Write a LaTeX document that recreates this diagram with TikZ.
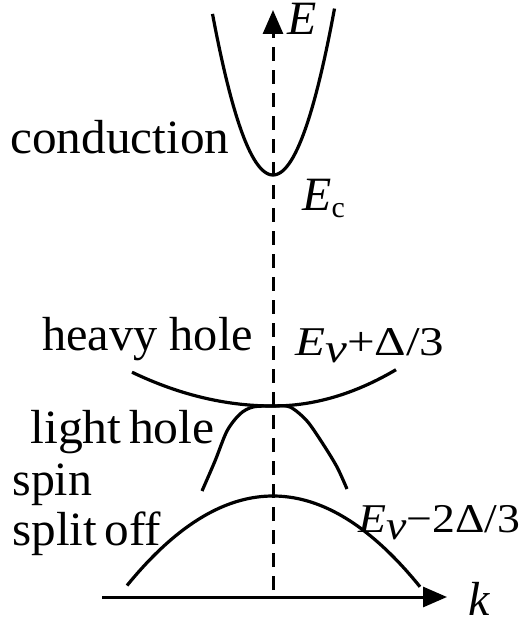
\documentclass[tikz,border=0pt]{standalone}
\usepackage{fontspec}
\setmainfont{Liberation Serif}
\usepackage{graphicx}
\usetikzlibrary{arrows.meta}

\newcommand\txt{\fontsize{24}{28}\selectfont}
\newcommand\wide[2]{\scalebox{#1}[1]{#2}}

\begin{document}
\begin{tikzpicture}[x=0.5bp, y=-0.5bp,
  lbl/.style={inner sep=0pt, anchor=base west, font=\txt},
  level/.style={lbl, font=\fontsize{20.5}{24}\selectfont},
  band/.style={line width=1.6bp},
  axis/.style={line width=1.5bp, -{Triangle[length=12bp,width=10bp]}}
]
  \useasboundingbox (0,0) rectangle (522,623);
  \coordinate (o) at (273,590);
  \coordinate (etop) at (273,10);
  \coordinate (kl) at (102,597);
  \coordinate (kr) at (447,597);

  \draw[axis, dash pattern=on 7bp off 4.5bp] (o) -- (etop);
  \draw[axis] (kl) -- (kr);

  \draw[band] plot[domain=-60.5:61.5, samples=60] ({273+\x},{175-0.044*\x*\x});
  \draw[band] plot[domain=-141:0, samples=40] ({273+\x},{406-0.17*(\x/10)*(\x/10)})
    -- plot[domain=0:123, samples=40] ({273+\x},{406-0.24*(\x/10)*(\x/10)});
  \draw[band] plot[smooth] coordinates {(202,491) (215,461) (227,431) (240,414) (253,407)
    (273,406) (290,407) (307,421) (323,444) (337,467) (347,489)};
  \draw[band] plot[domain=-146:147, samples=80] ({273+\x},{496+0.42*(\x/10)*(\x/10)});

  \node[lbl] (cond) at (10,154) {\wide{1.03}{conduction}};
  \node[lbl] (hh) at (42,350) {\wide{1.01}{heavy hole}};
  \node[lbl] (lh) at (30,443) {\wide{1.04}{light\hspace{.15em}hole}};
  \node[lbl] (spin) at (12,495) {spin};
  \node[lbl] (so) at (12,545) {\wide{1.03}{split\hspace{.15em}off}};

  \node[lbl] (E) at (287,35) {\textit{E}};
  \node[lbl] (Ec) at (302,210) {\textit{E}\raisebox{-3.5bp}{\fontsize{15}{18}\selectfont c}};
  \node[level] (Ehh) at (295,355) {\wide{1.2}{\textit{E}\raisebox{-3.5bp}{\textit{v}}+Δ/3}};
  \node[level] (Eso) at (358,532) {\wide{1.12}{\textit{E}\raisebox{-3.5bp}{\textit{v}}−2Δ/3}};
  \node[lbl] (k) at (468,615) {\textit{k}};
\end{tikzpicture}
\end{document}
